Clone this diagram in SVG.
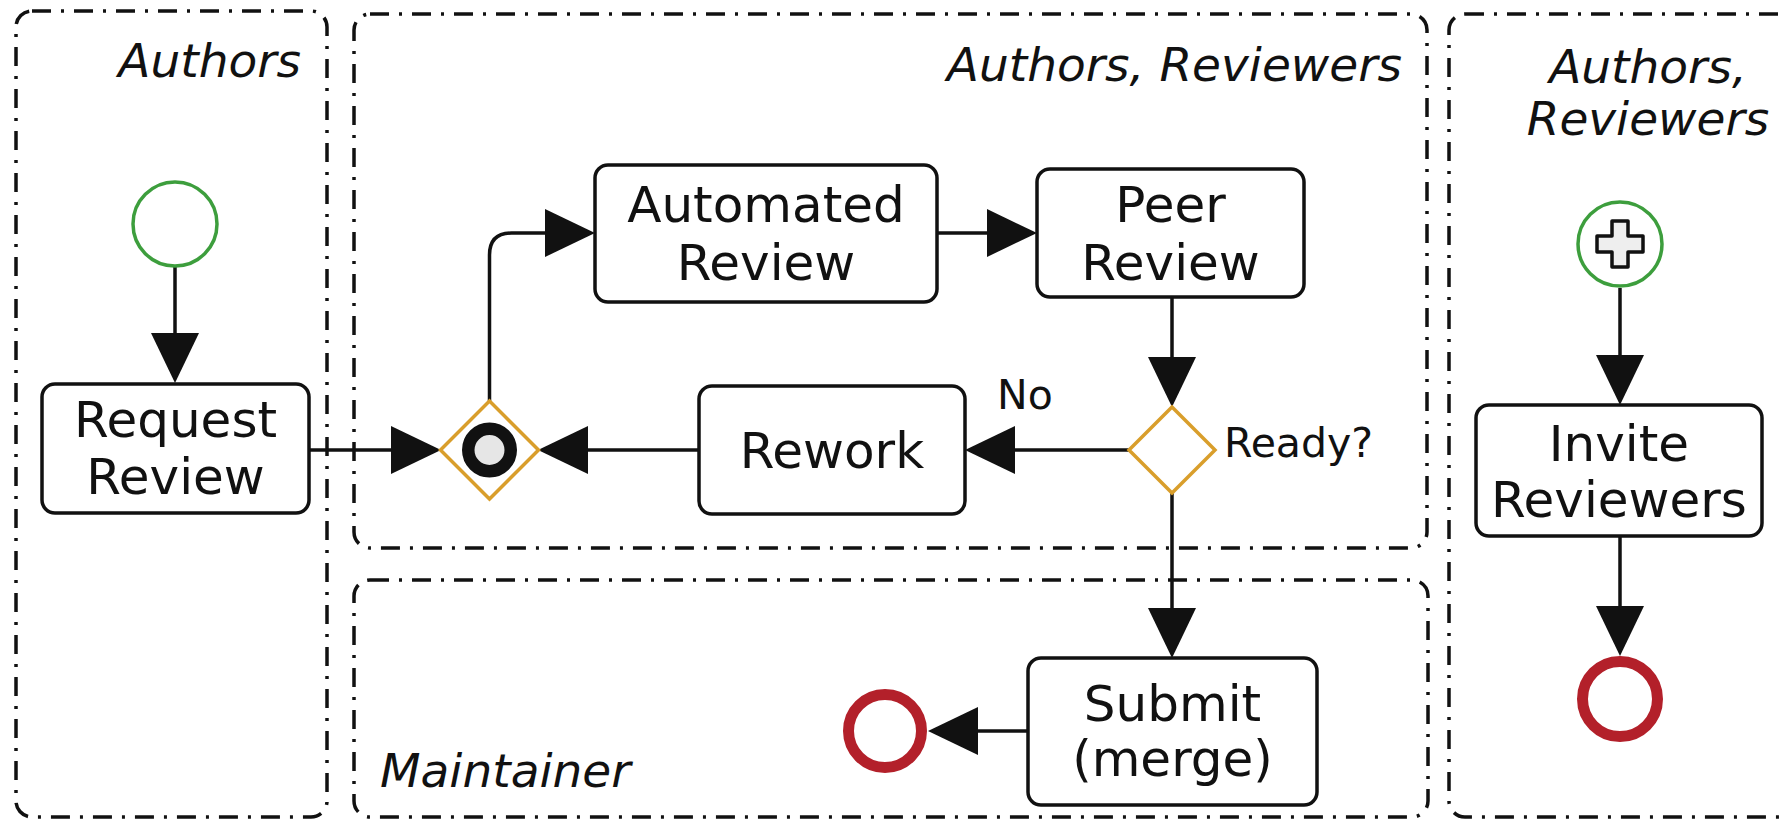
<svg xmlns="http://www.w3.org/2000/svg" width="1782" height="822" viewBox="0 0 1782 822">
<style>
.lane{fill:none;stroke:#111;stroke-width:3.5;stroke-dasharray:19 10 3 10}
.lbl{font-family:"DejaVu Sans",sans-serif;font-style:italic;font-size:47px;fill:#111}
.box{fill:#fff;stroke:#111;stroke-width:3.5}
.t{font-family:"DejaVu Sans",sans-serif;font-size:50px;fill:#111;text-anchor:middle}
.s{font-family:"DejaVu Sans",sans-serif;font-size:41px;fill:#111}
.gw{fill:#fff;stroke:#d99e2b;stroke-width:3.5}
.start{fill:#fff;stroke:#3d9e3d;stroke-width:3.5}
.end{fill:#fff;stroke:#b3202a;stroke-width:11}
.c{fill:none;stroke:#111;stroke-width:3.5}
</style>
<defs>
<marker id="ah" markerUnits="userSpaceOnUse" markerWidth="52" markerHeight="50" refX="0" refY="24" orient="auto" viewBox="0 0 52 50">
<path d="M0,0 L50,24 L0,48 Z" fill="#111"/>
</marker>
</defs>
<rect width="1782" height="822" fill="#fff"/>
<g id="lanes">
<g id="lane-authors"><rect class="lane" x="16" y="11" width="311" height="806" rx="16"/><text class="lbl" x="301" y="77" text-anchor="end">Authors</text></g>
<g id="lane-authors-reviewers"><rect class="lane" x="354" y="14" width="1073" height="534" rx="16"/><text class="lbl" x="1402" y="81" text-anchor="end">Authors, Reviewers</text></g>
<g id="lane-maintainer"><rect class="lane" x="354" y="580" width="1074" height="237" rx="16"/><text class="lbl" x="380" y="787">Maintainer</text></g>
<g id="lane-right"><rect class="lane" x="1449" y="14" width="360" height="803" rx="16"/><text class="lbl" x="1648" y="83" text-anchor="middle">Authors,</text><text class="lbl" x="1648" y="135" text-anchor="middle">Reviewers</text></g>
</g>
<g id="connectors">
<path class="c" d="M175,266 V333" marker-end="url(#ah)"/>
<path class="c" d="M309,450 H391" marker-end="url(#ah)"/>
<path class="c" d="M489.5,401 V255 Q489.5,233 511.5,233 H545" marker-end="url(#ah)"/>
<path class="c" d="M937,233 H987" marker-end="url(#ah)"/>
<path class="c" d="M1172,297 V357" marker-end="url(#ah)"/>
<path class="c" d="M1129,450 H1015" marker-end="url(#ah)"/>
<path class="c" d="M699,450 H588" marker-end="url(#ah)"/>
<path class="c" d="M1172,493 V608" marker-end="url(#ah)"/>
<path class="c" d="M1028,731 H978" marker-end="url(#ah)"/>
<path class="c" d="M1620,288 V355" marker-end="url(#ah)"/>
<path class="c" d="M1620,536 V606" marker-end="url(#ah)"/>
<text class="s" x="997" y="409">No</text>
<text class="s" x="1224" y="457">Ready?</text>
</g>
<g id="start"><circle class="start" cx="175" cy="224" r="42"/></g>
<g id="request-review"><rect class="box" x="42" y="384" width="267" height="129" rx="13"/><text class="t" x="175.5" y="437">Request</text><text class="t" x="175.5" y="494">Review</text></g>
<g id="merge-gateway"><polygon class="gw" points="489.5,401 538.5,450 489.5,499 440.5,450"/><circle cx="489.5" cy="450" r="21.25" fill="#e6e6e6" stroke="#111" stroke-width="12.5"/></g>
<g id="automated-review"><rect class="box" x="595" y="165" width="342" height="137" rx="13"/><text class="t" x="766" y="222">Automated</text><text class="t" x="766" y="280">Review</text></g>
<g id="peer-review"><rect class="box" x="1037" y="169" width="267" height="128" rx="13"/><text class="t" x="1170.5" y="222">Peer</text><text class="t" x="1170.5" y="280">Review</text></g>
<g id="ready-gateway"><polygon class="gw" points="1172,407 1215,450 1172,493 1129,450"/></g>
<g id="rework"><rect class="box" x="699" y="386" width="266" height="128" rx="13"/><text class="t" x="832" y="468">Rework</text></g>
<g id="submit"><rect class="box" x="1028" y="658" width="289" height="147" rx="13"/><text class="t" x="1172.5" y="721">Submit</text><text class="t" x="1172.5" y="776">(merge)</text></g>
<g id="end-merge"><circle class="end" cx="885" cy="731" r="36.5"/></g>
<g id="start-invite"><circle class="start" cx="1620" cy="244" r="42"/><path d="M1612,221 H1628 V236 H1643 V252 H1628 V267 H1612 V252 H1597 V236 H1612 Z" fill="#eee" stroke="#111" stroke-width="3.5" stroke-linejoin="round"/></g>
<g id="invite-reviewers"><rect class="box" x="1476" y="405" width="286" height="131" rx="13"/><text class="t" x="1619" y="461">Invite</text><text class="t" x="1619" y="517">Reviewers</text></g>
<g id="end-invite"><circle class="end" cx="1620" cy="699" r="37.5"/></g>
</svg>
